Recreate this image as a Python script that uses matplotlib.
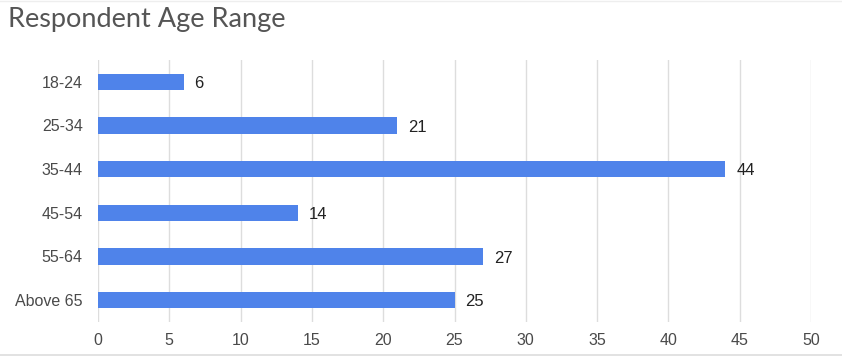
import matplotlib.pyplot as plt
from matplotlib.lines import Line2D

categories = ["18-24", "25-34", "35-44", "45-54", "55-64", "Above 65"]
values = [6, 21, 44, 14, 27, 25]
xticks = [0, 5, 10, 15, 20, 25, 30, 35, 40, 45, 50]

fig = plt.figure(figsize=(8.42, 3.58), dpi=100)
ax = fig.add_axes([0.1164, 0.1006, 0.8468, 0.7318])

ypos = range(len(categories))
ax.barh(ypos, values, height=0.37, color="#4f83ea", zorder=3)
for y, v in zip(ypos, values):
    ax.text(v + 0.75, y + 0.04, str(v), va="center", ha="left", fontsize=12,
            color="#222222", family="Liberation Sans")

ax.set_xlim(0, 50)
ax.set_ylim(len(categories) - 0.5, -0.5)
ax.set_yticks(list(ypos))
ax.set_yticklabels(categories)
ax.set_xticks(xticks)
ax.grid(axis="x", color="#dddddd", linewidth=1, zorder=0)
for s in ax.spines.values():
    s.set_visible(False)
ax.tick_params(length=0, labelsize=11.5, colors="#4a4a4a")
for lbl in ax.get_xticklabels() + ax.get_yticklabels():
    lbl.set_family("Liberation Sans")
ax.tick_params(axis="x", pad=8)
ax.tick_params(axis="y", pad=11)

fig.text(0.0095, 0.945, "Respondent Age Range", fontsize=19.5, color="#555555",
         family="Lato", ha="left", va="center")

fig.add_artist(Line2D([0, 1], [0.008, 0.008], color="#dddddd", linewidth=1.2,
                      transform=fig.transFigure))
fig.add_artist(Line2D([0, 1], [0.997, 0.997], color="#eeeeee", linewidth=1,
                      transform=fig.transFigure))

fig.savefig("out.png", dpi=100)
